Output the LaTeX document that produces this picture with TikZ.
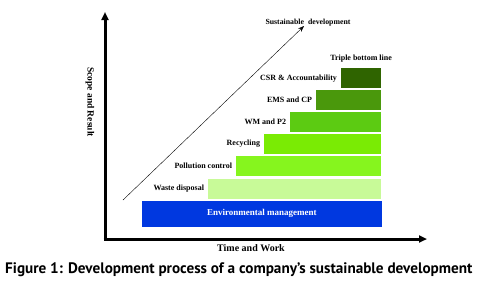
\documentclass[tikz,border=0pt]{standalone}
\usepackage{fontspec}
\setmainfont{Liberation Serif}
\newfontfamily\capfont{PT Sans}
\usepackage{tikz}
\usetikzlibrary{arrows.meta,positioning}
\definecolor{envblue}{HTML}{0038E0}
\definecolor{wastegreen}{HTML}{C8FA98}
\definecolor{pollgreen}{HTML}{86F51E}
\definecolor{recgreen}{HTML}{7AEB04}
\definecolor{wmgreen}{HTML}{5CCB12}
\definecolor{emsgreen}{HTML}{4A980C}
\definecolor{csrgreen}{HTML}{2F6400}
\tikzset{
    stepbox/.style={rectangle, draw=white, line width=0.8pt, minimum height=21pt, inner sep=0, anchor=south east},
    steplabel/.style={left=3pt of #1, font=\fontsize{8}{9}\selectfont\bfseries, inner sep=0},
    axis/.style={-{Triangle[length=8pt, width=7pt]}, line width=3pt},
    trend/.style={-{Stealth[length=6pt]}, thin},
    axlabel/.style={font=\fontsize{10}{11}\selectfont\bfseries, inner sep=0},
}
\begin{document}
\begin{tikzpicture}[x=1pt, y=-1pt]
    \useasboundingbox (0,0) rectangle (480,285);
    % axes
    \coordinate (origin) at (105,239);
    \coordinate (ytop) at (105,12);
    \coordinate (xend) at (427,239);
    \draw[axis] (origin) -- (ytop);
    \draw[axis] ([xshift=-1.5pt]origin) -- (xend);
    \node[axlabel, font=\fontsize{9.5}{10}\selectfont\bfseries, rotate=-90] (scope) at (90,102) {Scope and Result};
    \node[axlabel] (time) at (251,248) {Time and Work};

    % trend line
    \coordinate (tstart) at (123,200);
    \coordinate (tend) at (304,26);
    \draw[trend] (tstart) -- (tend);
    \node[axlabel, font=\fontsize{7.8}{9}\selectfont\bfseries] (sust) at (308,23) {Sustainable\ \ development};

    % base
    \node[rectangle, fill=envblue, minimum width=240pt, minimum height=26pt, inner sep=0, anchor=south east,
          text=white, font=\fontsize{9}{10}\selectfont\bfseries] (env) at (382,227) {Environmental management};

    % steps
    \node[stepbox, fill=wastegreen, minimum width=174pt] (waste) at (382,199.5) {};
    \node[stepbox, fill=pollgreen, minimum width=146pt] (poll) at (382,177) {};
    \node[stepbox, fill=recgreen, minimum width=118pt] (rec) at (382,155) {};
    \node[stepbox, fill=wmgreen, minimum width=92pt] (wm) at (382,133) {};
    \node[stepbox, fill=emsgreen, minimum width=66pt] (ems) at (382,111) {};
    \node[stepbox, fill=csrgreen, minimum width=41pt] (csr) at (382,89) {};

    \node[steplabel=waste] {Waste disposal};
    \node[steplabel=poll] {Pollution control};
    \node[steplabel=rec] {Recycling};
    \node[steplabel=wm] {WM and P2};
    \node[steplabel=ems] {EMS and CP};
    \node[steplabel=csr] {CSR \& Accountability};
    \node[axlabel, font=\fontsize{8}{9}\selectfont\bfseries, above=5pt of csr.north] (tbl) {Triple bottom line};

    % caption
    \node[font=\capfont\fontsize{15.2}{17}\selectfont\bfseries, inner sep=0, anchor=west] (caption) at (5,270)
        {Figure 1: Development process of a company’s sustainable development};
\end{tikzpicture}
\end{document}
